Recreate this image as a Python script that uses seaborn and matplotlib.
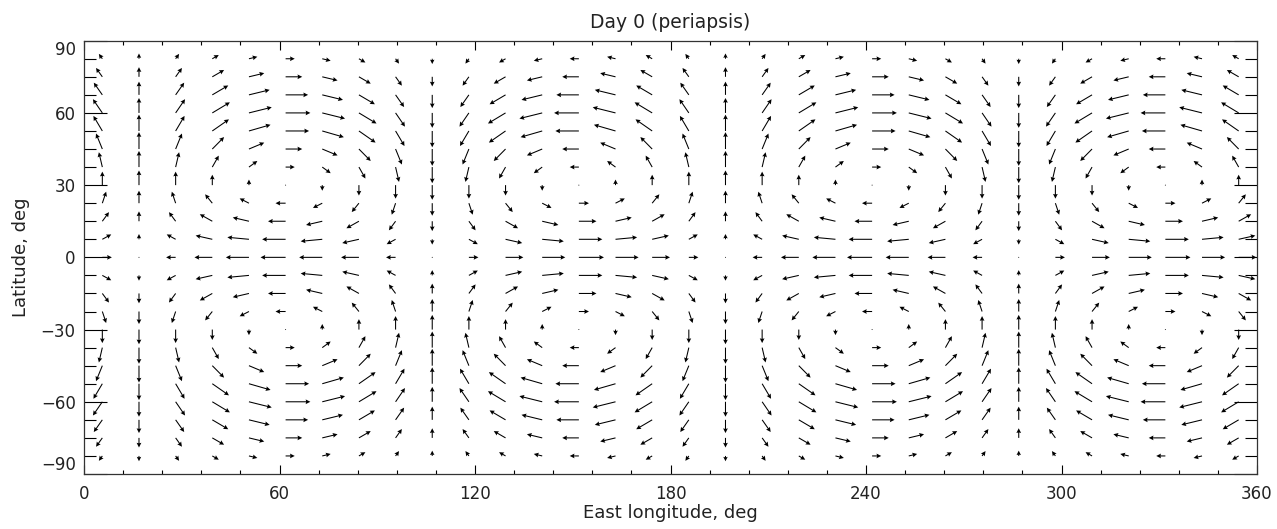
import numpy as np
import matplotlib
matplotlib.use("Agg")
import matplotlib.pyplot as plt
import seaborn as sns

# ---- grid (degrees) ----
lon = np.arange(5.625, 360, 11.25)          # 32 columns
lat = np.arange(-82.5, 83, 7.5)             # 23 rows

# zonal component (deg) read along the 61.875E column, south -> north
u_profile = [2.8, 5.1, 6.9, 7.6, 7.2, 5.1, 2.8, 0.0, -3.1, -5.4, -7.2,
             -7.7,
             -7.2, -5.4, -3.1, 0.0, 2.8, 5.1, 7.2, 7.6, 6.9, 5.1, 2.8]
# meridional component (deg) read along the 16.875E column, south -> north
v_profile = [-2.2, -4.0, -5.5, -6.2, -6.8, -7.0, -6.7, -6.1, -5.2, -4.1, -2.2,
             0.0,
             2.2, 4.1, 5.2, 6.1, 6.7, 7.0, 6.8, 6.2, 5.5, 4.0, 2.2]
u_rel = [-0.38, 0.0, 0.38, 0.71, 0.92, 1.0, 0.92, 0.71, 0.38, 0.0, -0.38, -0.71,
         -0.92, -1.0, -0.92, -0.71,
         -0.38, 0.0, 0.38, 0.71, 0.92, 1.0, 0.92, 0.71, 0.38, 0.0, -0.38, -0.71,
         -0.92, -1.0, -0.92, -0.71]
v_rel = [0.92, 1.0, 0.92, 0.71, 0.38, 0.0, -0.38, -0.71, -0.92, -1.0, -0.92, -0.71,
         -0.38, 0.0, 0.38, 0.71,
         0.92, 1.0, 0.92, 0.71, 0.38, 0.0, -0.38, -0.71, -0.92, -1.0, -0.92, -0.71,
         -0.38, 0.0, 0.38, 0.71]

title = "Day 0 (periapsis)"
xlabel = "East longitude, deg"
ylabel = "Latitude, deg"
xticks = [0, 60, 120, 180, 240, 300, 360]
yticks = [-90, -60, -30, 0, 30, 60, 90]

sns.set_style("ticks")
plt.rcParams["font.family"] = ["DejaVu Sans"]
plt.rcParams["text.color"] = "#222222"
plt.rcParams["axes.labelcolor"] = "#222222"
plt.rcParams["xtick.color"] = "black"
plt.rcParams["ytick.color"] = "black"

fig = plt.figure(figsize=(12.77, 5.29), dpi=100)
ax = fig.add_axes([84 / 1277, 1 - 474 / 529, (1257 - 84) / 1277, (474 - 40.7) / 529])

LON, LAT = np.meshgrid(lon, lat)
U = np.outer(u_profile, u_rel)
V = np.outer(v_profile, v_rel)
ax.quiver(LON, LAT, U, V, angles="xy", scale_units="xy", scale=1, pivot="tail",
          color="black", width=0.0009, headwidth=4.5, headlength=4.5,
          headaxislength=4.0, minshaft=1.2)

ax.set_xlim(0, 360)
ax.set_ylim(-90, 90)
ax.set_xticks(xticks)
ax.set_yticks(yticks)
ax.set_xticks(np.arange(0, 361, 12), minor=True)
ax.set_yticks(np.arange(-90, 91, 7.5), minor=True)
ax.tick_params(which="both", direction="in", top=True, right=True, labelsize=12,
               width=0.8, labelcolor="#222222")
ax.tick_params(axis="x", which="major", length=6.3, pad=8)
ax.tick_params(axis="x", which="minor", length=3.1)
ax.tick_params(axis="y", which="major", length=16.6, pad=6)
ax.tick_params(axis="y", which="minor", length=8.3)
for s in ax.spines.values():
    s.set_linewidth(0.9)
    s.set_color("#333333")

ylabs = ax.get_yticklabels()
ylabs[0].set_va("bottom")
ylabs[-1].set_va("top")

ax.set_title(title, fontsize=13.5, pad=9)
ax.set_xlabel(xlabel, fontsize=13, labelpad=1)
ax.set_ylabel(ylabel, fontsize=13, labelpad=8)

fig.savefig("out.png", dpi=100)
